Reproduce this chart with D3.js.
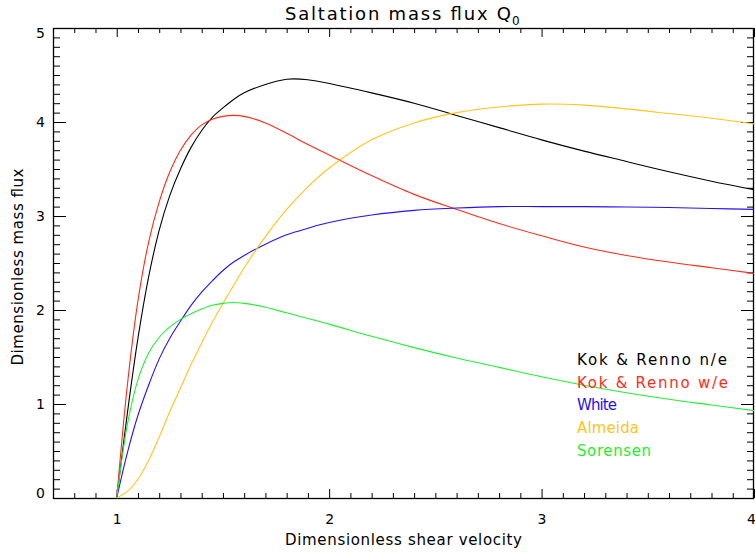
<!DOCTYPE html>
<html>
<head>
<meta charset="utf-8">
<script src="https://cdn.jsdelivr.net/npm/d3@7"></script>
<style>
  html, body { margin: 0; padding: 0; background: #fff; }
  svg { display: block; }
  text { font-family: "DejaVu Sans", sans-serif; }
</style>
</head>
<body>
<svg id="chart" width="755" height="556"></svg>
<script>
// ---- data ----
const xValues = [1.0,1.05,1.1,1.15,1.2,1.25,1.3,1.35,1.4,1.45,1.5,1.55,1.6,1.7,1.8,1.9,2.0,2.2,2.4,2.6,2.8,3.0,3.2,3.4,3.6,3.8,4.0];
const kokNE    = [0,0.90,1.70,2.35,2.85,3.22,3.50,3.73,3.91,4.05,4.15,4.24,4.31,4.40,4.455,4.45,4.41,4.31,4.20,4.07,3.94,3.81,3.69,3.58,3.47,3.37,3.28];
const kokWE    = [0,1.20,2.10,2.72,3.15,3.47,3.70,3.86,3.97,4.03,4.06,4.07,4.06,3.99,3.88,3.76,3.65,3.43,3.23,3.07,2.92,2.79,2.67,2.58,2.51,2.45,2.39];
const white    = [0,0.48,0.88,1.20,1.48,1.70,1.88,2.05,2.19,2.31,2.42,2.51,2.58,2.70,2.80,2.87,2.93,3.01,3.06,3.085,3.10,3.10,3.10,3.095,3.09,3.08,3.07];
const almeida  = [0,0.07,0.20,0.40,0.65,0.92,1.17,1.42,1.65,1.87,2.07,2.26,2.45,2.78,3.07,3.31,3.51,3.81,3.99,4.10,4.16,4.19,4.18,4.14,4.09,4.04,3.98];
const sorensen = [0,0.78,1.26,1.54,1.71,1.82,1.90,1.96,2.01,2.05,2.07,2.08,2.07,2.03,1.97,1.91,1.85,1.72,1.60,1.49,1.39,1.29,1.20,1.12,1.05,0.99,0.93];

const seriesNames  = ["Kok & Renno n/e", "Kok & Renno w/e", "White", "Almeida", "Sorensen"];
const seriesValues = [kokNE, kokWE, white, almeida, sorensen];
const seriesColors = ["#000000", "#ff2a1a", "#2a10f0", "#ffc41a", "#22ee33"];

const xMajorTicks = [1, 2, 3, 4];
const yMajorTicks = [0, 1, 2, 3, 4, 5];
const xDomain = [0.7, 4];
const yDomain = [0, 5];
const titleText = "Saltation mass flux Q";
const titleSub = "0";
const xTitle = "Dimensionless shear velocity";
const yTitle = "Dimensionless mass flux";

// ---- layout ----
const L = 53, R = 754, T = 28, B = 498;
const svg = d3.select("#chart");
const x = d3.scaleLinear().domain(xDomain).range([L, R]);
const y = d3.scaleLinear().domain(yDomain).range([B, T]);

const xMinor = d3.range(7, 41).filter(d => d % 10 !== 0).map(d => d / 10);
const yMinor = d3.range(0, 51).filter(d => d % 10 !== 0).map(d => d / 10);

function styleAxis(g) {
  g.select(".domain").remove();
  g.selectAll(".tick line").attr("stroke", "#000").attr("stroke-width", 1);
  g.selectAll(".tick text").attr("fill", "#000").style("font-size", "14px")
    .style("font-family", "DejaVu Sans, sans-serif");
}

// bottom
svg.append("g").attr("transform", `translate(0,${B})`)
  .call(d3.axisBottom(x).tickValues(xMinor).tickSize(-5).tickFormat(""))
  .call(styleAxis);
const xLab = svg.append("g").attr("transform", `translate(0,${B})`)
  .call(d3.axisBottom(x).tickValues(xMajorTicks).tickSize(-9).tickPadding(16).tickFormat(d3.format("d")))
  .call(styleAxis);
xLab.selectAll(".tick text").filter(d => d === 4).attr("dx", -3);
// top
svg.append("g").attr("transform", `translate(0,${T})`)
  .call(d3.axisTop(x).tickValues(xMinor).tickSize(-5).tickFormat(""))
  .call(styleAxis);
svg.append("g").attr("transform", `translate(0,${T})`)
  .call(d3.axisTop(x).tickValues(xMajorTicks).tickSize(-9).tickFormat(""))
  .call(styleAxis);
// left
svg.append("g").attr("transform", `translate(${L},0)`)
  .call(d3.axisLeft(y).tickValues(yMinor).tickSize(-7).tickFormat(""))
  .call(styleAxis);
const yLab = svg.append("g").attr("transform", `translate(${L},0)`)
  .call(d3.axisLeft(y).tickValues(yMajorTicks).tickSize(-13).tickPadding(8).tickFormat(d3.format("d")))
  .call(styleAxis);
yLab.selectAll(".tick text").filter(d => d === 0).attr("y", -5);
yLab.selectAll(".tick text").filter(d => d === 5).attr("y", 5);
// right
svg.append("g").attr("transform", `translate(${R},0)`)
  .call(d3.axisRight(y).tickValues(yMinor).tickSize(-7).tickFormat(""))
  .call(styleAxis);
svg.append("g").attr("transform", `translate(${R},0)`)
  .call(d3.axisRight(y).tickValues(yMajorTicks).tickSize(-13).tickFormat(""))
  .call(styleAxis);

// border
svg.append("rect").attr("x", L + 0.5).attr("y", T + 0.5)
  .attr("width", R - L - 1).attr("height", B - T)
  .attr("fill", "none").attr("stroke", "#000").attr("stroke-width", 1.3);

// clip
svg.append("clipPath").attr("id", "clip").append("rect")
  .attr("x", L).attr("y", T).attr("width", R - L).attr("height", B - T + 1);

const line = d3.line().x((d, i) => x(xValues[i])).y(d => y(d)).curve(d3.curveCatmullRom.alpha(0.5));
const plot = svg.append("g").attr("clip-path", "url(#clip)");
seriesValues.forEach((vals, k) => {
  plot.append("path").datum(vals).attr("d", line)
    .attr("fill", "none").attr("stroke", seriesColors[k]).attr("stroke-width", 1.1);
});

// legend
const legendY = [365, 388, 410, 433, 456];
const legendW = [150, 151, 40, 62, 74];
seriesNames.forEach((name, k) => {
  svg.append("text").attr("x", 577).attr("y", legendY[k])
    .attr("fill", seriesColors[k]).style("font-size", "15px")
    .attr("textLength", legendW[k]).attr("lengthAdjust", "spacing")
    .text(name);
});

// title
svg.append("text").attr("x", 285).attr("y", 20)
  .style("font-size", "18px").attr("fill", "#000")
  .attr("textLength", 226).attr("lengthAdjust", "spacing")
  .text(titleText);
svg.append("text").attr("x", 512).attr("y", 25)
  .style("font-size", "12px").attr("fill", "#000")
  .text(titleSub);

// axis titles
svg.append("text").attr("x", (L + R) / 2).attr("y", 545)
  .attr("text-anchor", "middle").style("font-size", "15px").attr("fill", "#000")
  .attr("textLength", 237).attr("lengthAdjust", "spacing")
  .text(xTitle);
svg.append("text").attr("transform", `translate(23,${(T + B) / 2 + 4}) rotate(-90)`)
  .attr("text-anchor", "middle").style("font-size", "15px").attr("fill", "#000")
  .attr("textLength", 197).attr("lengthAdjust", "spacing")
  .text(yTitle);
</script>
</body>
</html>
